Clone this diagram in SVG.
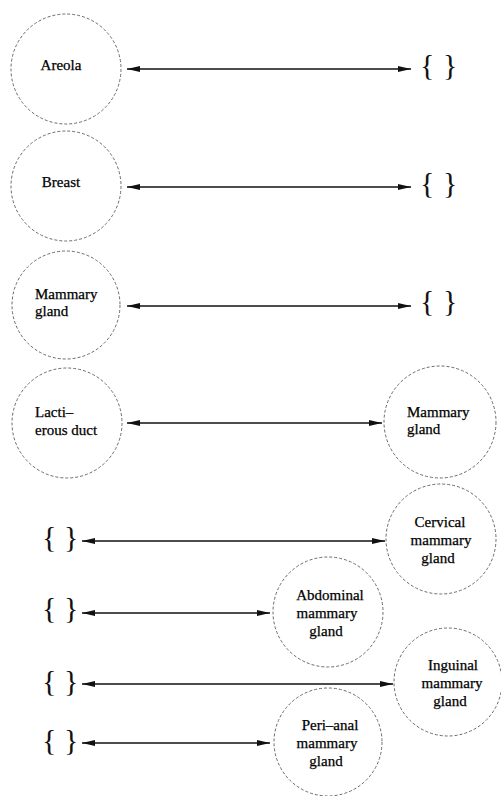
<svg xmlns="http://www.w3.org/2000/svg" width="501" height="796" viewBox="0 0 501 796">
  <style>
    .node circle { fill: none; stroke: #6a6a6a; stroke-width: 1; stroke-dasharray: 3 2; }
    .lbl { font-family: "Liberation Serif", "Times New Roman", serif; font-size: 15px; fill: #000; stroke: #000; stroke-width: 0.25; }
    .mid { text-anchor: middle; }
    .brace { font-family: "Liberation Serif", "Times New Roman", serif; font-size: 30px; fill: #111; }
    .link { stroke: #111; stroke-width: 1.4; fill: none; marker-start: url(#head); marker-end: url(#head); }
  </style>
  <defs>
    <marker id="head" viewBox="0 0 13 6" refX="13" refY="3" markerWidth="13" markerHeight="6" markerUnits="userSpaceOnUse" orient="auto-start-reverse">
      <path d="M0,0 L13,3 L0,6 z" fill="#111"/>
    </marker>
  </defs>

  <rect width="501" height="796" fill="#fff"/>

  <!-- left column -->
  <g id="areola" class="node">
    <circle cx="66" cy="69" r="55"/>
    <text class="lbl mid" x="61" y="70">Areola</text>
  </g>
  <g id="breast" class="node">
    <circle cx="66" cy="186" r="55"/>
    <text class="lbl mid" x="61" y="187">Breast</text>
  </g>
  <g id="mammary-gland-left" class="node">
    <circle cx="66" cy="305" r="54"/>
    <text class="lbl" x="35" y="299">Mammary</text>
    <text class="lbl" x="35" y="316">gland</text>
  </g>
  <g id="lactiferous-duct" class="node">
    <circle cx="67" cy="423" r="55"/>
    <text class="lbl" x="35" y="417">Lacti–</text>
    <text class="lbl" x="35" y="435">erous duct</text>
  </g>

  <!-- empty sets -->
  <g id="empty-1"><text class="brace" x="420" y="75">{</text><text class="brace" x="443" y="75">}</text></g>
  <g id="empty-2"><text class="brace" x="420" y="193">{</text><text class="brace" x="443" y="193">}</text></g>
  <g id="empty-3"><text class="brace" x="420" y="311">{</text><text class="brace" x="443" y="311">}</text></g>
  <g id="empty-5"><text class="brace" x="42" y="547">{</text><text class="brace" x="64" y="547">}</text></g>
  <g id="empty-6"><text class="brace" x="42" y="618">{</text><text class="brace" x="64" y="618">}</text></g>
  <g id="empty-7"><text class="brace" x="42" y="691">{</text><text class="brace" x="64" y="691">}</text></g>
  <g id="empty-8"><text class="brace" x="42" y="750">{</text><text class="brace" x="64" y="750">}</text></g>

  <!-- right column -->
  <g id="mammary-gland-right" class="node">
    <circle cx="440" cy="422" r="56"/>
    <text class="lbl" x="407" y="417">Mammary</text>
    <text class="lbl" x="407" y="434">gland</text>
  </g>
  <g id="cervical" class="node">
    <circle cx="441" cy="539" r="55"/>
    <text class="lbl mid" x="440" y="527">Cervical</text>
    <text class="lbl mid" x="441" y="545">mammary</text>
    <text class="lbl mid" x="438" y="563">gland</text>
  </g>
  <g id="abdominal" class="node">
    <circle cx="328" cy="612" r="55"/>
    <text class="lbl mid" x="330" y="600">Abdominal</text>
    <text class="lbl mid" x="327" y="618">mammary</text>
    <text class="lbl mid" x="326" y="636">gland</text>
  </g>
  <g id="inguinal" class="node">
    <circle cx="448" cy="682" r="54"/>
    <text class="lbl mid" x="453" y="670">Inguinal</text>
    <text class="lbl mid" x="452" y="688">mammary</text>
    <text class="lbl mid" x="450" y="706">gland</text>
  </g>
  <g id="peri-anal" class="node">
    <circle cx="328" cy="742" r="54"/>
    <text class="lbl mid" x="330" y="730">Peri–anal</text>
    <text class="lbl mid" x="327" y="748">mammary</text>
    <text class="lbl mid" x="326" y="766">gland</text>
  </g>

  <!-- connectors -->
  <g id="connectors">
    <line class="link" x1="127" y1="69" x2="411" y2="69"/>
    <line class="link" x1="127" y1="187" x2="411" y2="187"/>
    <line class="link" x1="127" y1="306" x2="411" y2="306"/>
    <line class="link" x1="127" y1="423" x2="382" y2="423"/>
    <line class="link" x1="82" y1="541" x2="385" y2="541"/>
    <line class="link" x1="82" y1="613" x2="270" y2="613"/>
    <line class="link" x1="82" y1="684" x2="393" y2="684"/>
    <line class="link" x1="82" y1="743" x2="270" y2="743"/>
  </g>
</svg>
